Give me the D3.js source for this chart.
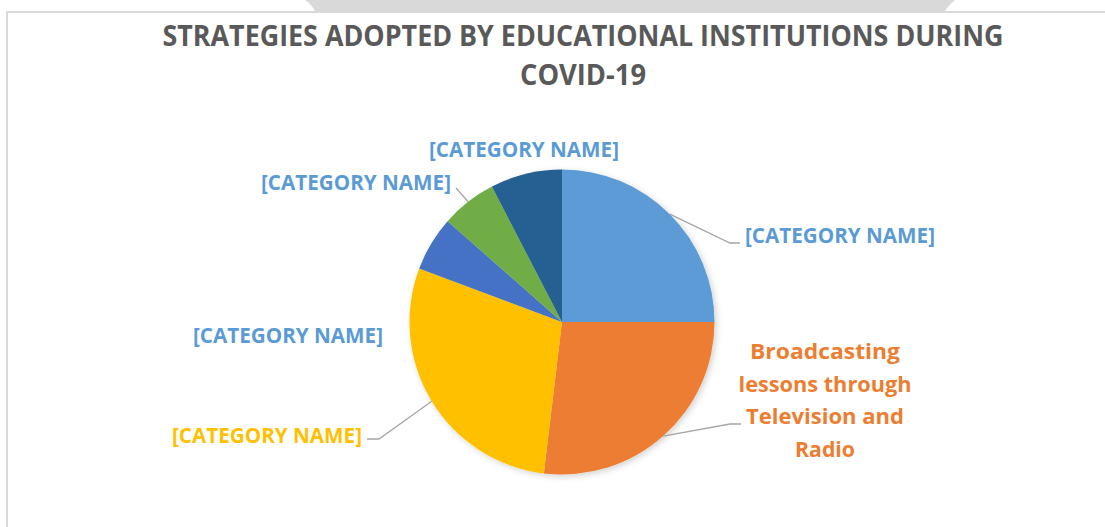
<!DOCTYPE html>
<html>
<head>
<meta charset="utf-8">
<script src="https://cdn.jsdelivr.net/npm/d3@7"></script>
<style>
  body { margin: 0; background: #fff; }
  text { font-family: "Open Sans", sans-serif; font-weight: bold; }
</style>
</head>
<body>
<script>
// data (percent of the pie, clockwise from 12 o'clock)
var categories = ["[CATEGORY NAME]", "Broadcasting lessons through Television and Radio",
                  "[CATEGORY NAME]", "[CATEGORY NAME]", "[CATEGORY NAME]", "[CATEGORY NAME]"];
var values = [25, 26.9, 28.8, 5.8, 5.9, 7.6];

var titleLines = ["STRATEGIES ADOPTED BY EDUCATIONAL INSTITUTIONS DURING", "COVID-19"];

var sliceColors = ["#5B9BD5", "#ED7D31", "#FFC000", "#4472C4", "#70AD47", "#255E91"];
var labelColors = ["#5B9BD5", "#ED7D31", "#FFC000", "#5B9BD5", "#5B9BD5", "#5B9BD5"];

var width = 1105, height = 527;
var cx = 562, cy = 322, radius = 152.5;

// label placement (layout only)
var labelLayout = [
  {x: 745, y: 243, anchor: "start", w: 190, lines: null, elbow: [[730, 243], [740, 243]]},
  {x: 825, y: 359, anchor: "middle", lines: ["Broadcasting", "lessons through", "Television and", "Radio"],
   ws: [150, 173, 158, 60], dy: 32.5, elbow: [[730, 424], [741, 424]]},
  {x: 362, y: 443, anchor: "end", w: 190, lines: null, elbow: [[379, 439], [367, 439]]},
  {x: 383, y: 343, anchor: "end", w: 190, lines: null, elbow: null},
  {x: 451, y: 190, anchor: "end", w: 190, lines: null, elbow: [[456, 188]]},
  {x: 619, y: 157, anchor: "end", w: 190, lines: null, elbow: null}
];

var svg = d3.select("body").append("svg")
    .attr("width", width)
    .attr("height", height);

// page decoration above the chart box
svg.append("path")
    .attr("d", "M305,0 H955 Q948,6 945,11 H315 Q312,5 305,0 Z")
    .attr("fill", "#d9d9d9");

// chart box border
svg.append("path")
    .attr("d", "M7,527 V12 H1105")
    .attr("fill", "none")
    .attr("stroke", "#d9d9d9")
    .attr("stroke-width", 2);

var defs = svg.append("defs");
var filter = defs.append("filter").attr("id", "shadow")
    .attr("x", "-20%").attr("y", "-20%").attr("width", "140%").attr("height", "140%");
filter.append("feDropShadow")
    .attr("dx", 2).attr("dy", 2).attr("stdDeviation", 3)
    .attr("flood-color", "#000").attr("flood-opacity", 0.18);

// title
svg.selectAll(".title")
    .data(titleLines)
  .enter().append("text")
    .attr("class", "title")
    .attr("x", 583)
    .attr("y", function(d, i) { return 46 + i * 39; })
    .attr("text-anchor", "middle")
    .attr("fill", "#595959")
    .attr("font-size", 28)
    .attr("textLength", function(d, i) { return i === 0 ? 841 : 126; })
    .attr("lengthAdjust", "spacingAndGlyphs")
    .text(function(d) { return d; });

var pie = d3.pie().sort(null).value(function(d) { return d; });
var arc = d3.arc().innerRadius(0).outerRadius(radius);
var arcs = pie(values);

var g = svg.append("g")
    .attr("transform", "translate(" + cx + "," + cy + ")");

g.append("g")
    .attr("filter", "url(#shadow)")
  .selectAll("path")
    .data(arcs)
  .enter().append("path")
    .attr("d", arc)
    .attr("fill", function(d, i) { return sliceColors[i]; });

// leader lines
arcs.forEach(function(d, i) {
  var L = labelLayout[i];
  if (!L.elbow) return;
  var a = (d.startAngle + d.endAngle) / 2;
  var pts = [[cx + radius * Math.sin(a), cy - radius * Math.cos(a)]].concat(L.elbow);
  svg.append("path")
      .attr("d", d3.line()(pts))
      .attr("fill", "none")
      .attr("stroke", "#a6a6a6")
      .attr("stroke-width", 1.3);
});

// data labels
arcs.forEach(function(d, i) {
  var L = labelLayout[i];
  var lines = L.lines || [categories[i]];
  var ws = L.ws || [L.w];
  svg.selectAll(null)
      .data(lines)
    .enter().append("text")
      .attr("x", L.x)
      .attr("y", function(t, j) { return L.y + j * (L.dy || 0); })
      .attr("text-anchor", L.anchor)
      .attr("fill", labelColors[i])
      .attr("font-size", 22)
      .attr("textLength", function(t, j) { return ws[j]; })
      .attr("lengthAdjust", "spacingAndGlyphs")
      .text(function(t) { return t; });
});
</script>
</body>
</html>
